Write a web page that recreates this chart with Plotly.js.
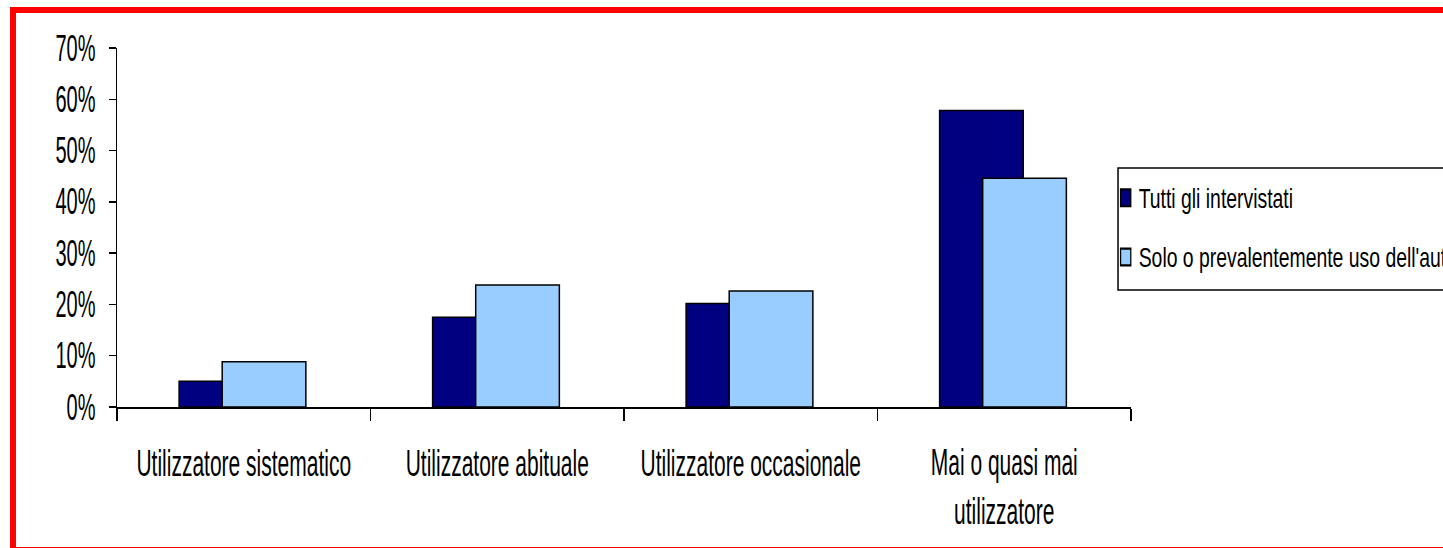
<!DOCTYPE html>
<html>
<head>
<meta charset="utf-8">
<script src="https://cdn.plot.ly/plotly-3.0.1.min.js"></script>
<style>
html, body { margin: 0; padding: 0; background: #ffffff; overflow: hidden; }
#wrap { position: relative; width: 1443px; height: 548px; overflow: hidden; background: #fff; }
#chart { position: absolute; left: 0; top: 0; width: 1443px; height: 548px; }
#frame { position: absolute; left: 10px; top: 7px; width: 1500px; height: 546px; box-sizing: border-box; border: 6px solid #ff0000; pointer-events: none; }
</style>
</head>
<body>
<div id="wrap">
<div id="chart"></div>
<div id="frame"></div>
</div>
<script>
const categories = ["Utilizzatore sistematico", "Utilizzatore abituale", "Utilizzatore occasionale", "Mai o quasi mai<br>utilizzatore"];
const seriesNames = ["Tutti gli intervistati", "Solo o prevalentemente uso dell'auto"];
const tuttiValues = [0.05, 0.175, 0.202, 0.578];
const soloAutoValues = [0.088, 0.238, 0.226, 0.446];
const yTickValues = [0, 0.1, 0.2, 0.3, 0.4, 0.5, 0.6, 0.7];
const yTickLabels = ["0%", "10%", "20%", "30%", "40%", "50%", "60%", "70%"];

const FONT = "'Liberation Sans', Arial, sans-serif";

const traces = [
  {
    type: "bar", name: seriesNames[0], x: categories, y: tuttiValues,
    width: 0.33, offset: -0.255,
    marker: { color: "#000080", line: { color: "#000000", width: 1.5 } },
    legendgroup: "a", hoverinfo: "none"
  },
  {
    type: "bar", name: seriesNames[1], x: categories, y: soloAutoValues,
    width: 0.33, offset: -0.085,
    marker: { color: "#99CCFF", line: { color: "#000000", width: 1.5 } },
    legendgroup: "b", hoverinfo: "none"
  }
];

const layout = {
  width: 1443, height: 548,
  paper_bgcolor: "#ffffff", plot_bgcolor: "#ffffff",
  margin: { l: 117, r: 312, t: 48, b: 141, autoexpand: false },
  barmode: "overlay",
  showlegend: true,
  font: { family: FONT, color: "#000000", size: 20 },
  xaxis: {
    type: "category",
    range: [-0.5, 3.5],
    showline: true, linecolor: "#000000", linewidth: 1.5,
    ticks: "outside", tickson: "boundaries", ticklen: 12, tickwidth: 1.5, tickcolor: "#000000",
    showgrid: false, zeroline: false, tickangle: 0,
    tickfont: { family: FONT, size: 21, color: "#000000" },
    ticklabelstandoff: 36
  },
  yaxis: {
    range: [0, 0.7],
    tickvals: yTickValues, ticktext: yTickLabels,
    showline: true, linecolor: "#000000", linewidth: 1.5,
    ticks: "outside", ticklen: 7, tickwidth: 1.5, tickcolor: "#000000",
    showgrid: false, zeroline: false,
    tickfont: { family: FONT, size: 20, color: "#000000" },
    ticklabelstandoff: 9
  },
  legend: {
    x: 0.977, xanchor: "left", y: 0.636, yanchor: "top",
    bgcolor: "rgba(0,0,0,0)", borderwidth: 0,
    font: { family: FONT, size: 19.4, color: "#000000" },
    tracegroupgap: 31
  },
  shapes: [
    {
      type: "rect", xref: "paper", yref: "paper",
      x0: 0.9872, x1: 1.4, y0: 0.3259, y1: 0.6657,
      line: { color: "#000000", width: 1.5 }, fillcolor: "#ffffff", layer: "above"
    }
  ]
};

function stretchText(selector, s, dx) {
  document.querySelectorAll(selector).forEach(function (el) {
    const bb = el.getBBox();
    const nLines = Math.max(1, el.querySelectorAll("tspan.line").length);
    const cx = bb.x + bb.width / 2;
    const cy = bb.y + (bb.height / nLines) / 2;
    const orig = el.getAttribute("transform") || "";
    el.setAttribute("transform", orig + " translate(" + ((dx || 0) + cx) + "," + cy + ") scale(1," + s + ") translate(" + (-cx) + "," + (-cy) + ")");
  });
}
function scaleSymbols(selector, sx, sy, dx) {
  document.querySelectorAll(selector).forEach(function (el) {
    const bb = el.getBBox();
    const cx = bb.x + bb.width / 2;
    const cy = bb.y + bb.height / 2;
    const orig = el.getAttribute("transform") || "";
    el.setAttribute("transform", orig + " translate(" + ((dx || 0) + cx) + "," + cy + ") scale(" + sx + "," + sy + ") translate(" + (-cx) + "," + (-cy) + ")");
  });
}

Plotly.newPlot("chart", traces, layout, { staticPlot: true, displayModeBar: false }).then(function () {
  stretchText("#chart .xtick text", 1.8, 0);
  stretchText("#chart .ytick text", 1.8, 0);
  stretchText("#chart .legend text.legendtext", 1.39, -9);
  scaleSymbols("#chart .legend .legendpoints path", 0.85, 1.4, -2);
});
</script>
</body>
</html>
